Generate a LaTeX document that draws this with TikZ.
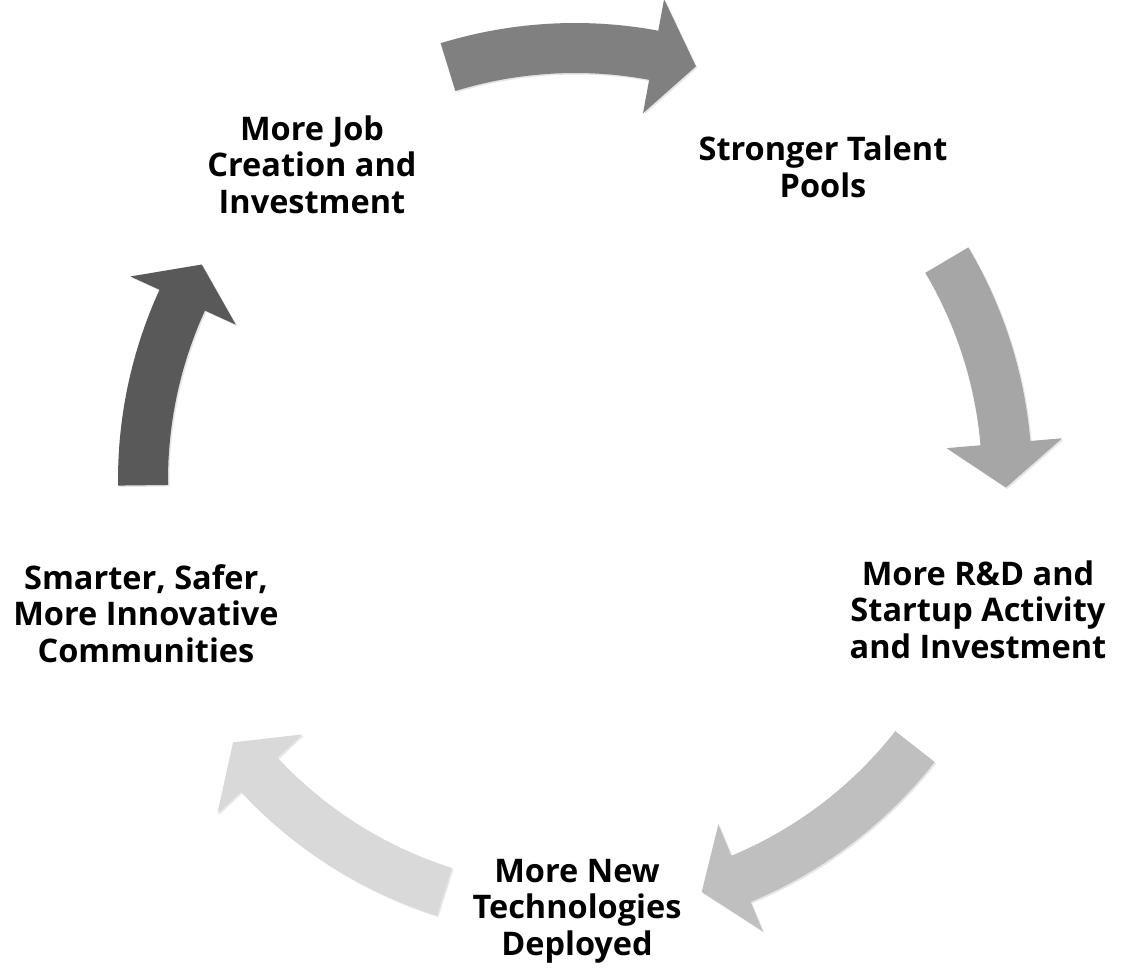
\documentclass[tikz,border=0pt]{standalone}
\usepackage{fontspec}
\setmainfont{Open Sans}
\usepackage{tikz}
\usetikzlibrary{shadows}

\definecolor{arrowA}{HTML}{808080}
\definecolor{arrowB}{HTML}{A6A6A6}
\definecolor{arrowC}{HTML}{BFBFBF}
\definecolor{arrowD}{HTML}{D9D9D9}
\definecolor{arrowE}{HTML}{595959}

% curved block arrow round the centre: tail angle, neck angle, tip angle, colour
\newcommand{\cyclearrow}[4]{%
  \fill[#4, drop shadow={opacity=0.2, shadow xshift=1.5pt, shadow yshift=-1.5pt}]
    (#1:457) arc[start angle=#1, end angle=#2, radius=457]
    -- (#2:489) -- (#3:431) -- (#2:373) -- (#2:407)
    arc[start angle=#2, end angle=#1, radius=407] -- cycle;
}

\begin{document}
\begin{tikzpicture}[x=1pt,y=1pt,
    cyclelabel/.style={align=center, inner sep=0pt, anchor=base,
      font=\bfseries\fontsize{32.5}{36.5}\selectfont}]
    \useasboundingbox (-575,-490) rectangle (562,480);

    %Block Arrows
    \cyclearrow{107.1}{79.5}{73.7}{arrowA}
    \cyclearrow{30.6}{4.9}{-1}{arrowB}
    \cyclearrow{-38.1}{-67.4}{-72.9}{arrowC}
    \cyclearrow{-107.6}{-137}{-142.5}{arrowD}
    \cyclearrow{180.7}{155.4}{150}{arrowE}

    % Text Node
    \node[cyclelabel] (jobs) at (-263,267) {More Job\\Creation and\\Investment};
    % Text Node
    \node[cyclelabel] (talent) at (248,283) {Stronger Talent\\Pools};
    % Text Node
    \node[cyclelabel] (research) at (403,-178) {More R\&D and\\Startup Activity\\and Investment};
    % Text Node
    \node[cyclelabel] (tech) at (2,-475) {More New\\Technologies\\Deployed};
    % Text Node
    \node[cyclelabel] (communities) at (-429,-182) {Smarter, Safer,\\More Innovative\\Communities};
\end{tikzpicture}
\end{document}
